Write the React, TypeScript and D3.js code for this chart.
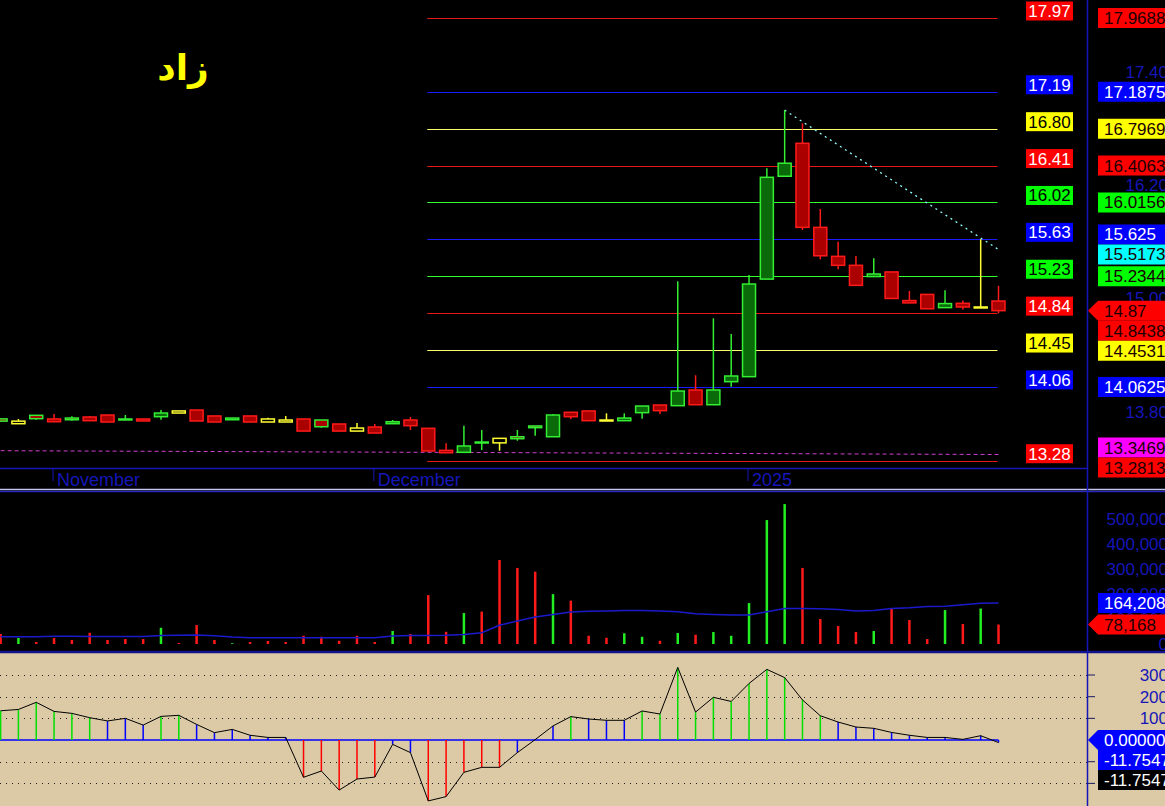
import React from 'react';
import * as d3 from 'd3';

// ---- data ----
const priorClose = 13.69;

const opens = [
  13.724, 13.673, 13.762, 13.723, 13.733, 13.744, 13.765, 13.723, 13.723, 13.747,
  13.808, 13.818, 13.755, 13.715, 13.755, 13.723, 13.712, 13.723, 13.712, 13.670,
  13.627, 13.638, 13.673, 13.712, 13.624, 13.391, 13.370, 13.479, 13.518, 13.535,
  13.649, 13.535, 13.794, 13.808, 13.712, 13.705, 13.790, 13.871, 13.864, 14.030,
  13.874, 14.118, 14.171, 15.204, 16.293, 16.642, 15.752, 15.445, 15.350, 15.231,
  15.280, 14.977, 15.042, 14.902, 14.948, 14.905, 14.972,
];
const highs = [
  13.724, 13.723, 13.762, 13.776, 13.751, 13.755, 13.765, 13.765, 13.723, 13.818,
  13.808, 13.818, 13.755, 13.733, 13.755, 13.736, 13.755, 13.723, 13.712, 13.670,
  13.680, 13.670, 13.712, 13.744, 13.624, 13.465, 13.652, 13.606, 13.518, 13.606,
  13.649, 13.776, 13.794, 13.808, 13.783, 13.783, 13.860, 13.871, 15.181, 14.186,
  14.789, 14.623, 15.247, 16.378, 16.993, 16.854, 15.946, 15.600, 15.448, 15.425,
  15.280, 15.079, 15.042, 15.087, 14.977, 15.627, 15.133,
];
const lows = [
  13.694, 13.673, 13.715, 13.694, 13.705, 13.705, 13.691, 13.715, 13.702, 13.715,
  13.786, 13.702, 13.691, 13.715, 13.691, 13.691, 13.691, 13.595, 13.631, 13.595,
  13.595, 13.574, 13.673, 13.606, 13.384, 13.365, 13.370, 13.394, 13.387, 13.493,
  13.546, 13.535, 13.723, 13.705, 13.705, 13.705, 13.726, 13.776, 13.864, 13.874,
  13.874, 14.065, 14.171, 15.204, 16.293, 15.724, 15.413, 15.308, 15.138, 15.231,
  14.999, 14.952, 14.890, 14.902, 14.882, 14.905, 14.842,
];
const closes = [
  13.700, 13.700, 13.726, 13.694, 13.715, 13.705, 13.691, 13.715, 13.702, 13.786,
  13.786, 13.702, 13.691, 13.733, 13.691, 13.691, 13.691, 13.595, 13.641, 13.595,
  13.595, 13.574, 13.694, 13.652, 13.384, 13.365, 13.437, 13.470, 13.470, 13.514,
  13.631, 13.765, 13.747, 13.705, 13.705, 13.733, 13.860, 13.811, 14.019, 13.874,
  14.030, 14.178, 15.152, 16.282, 16.431, 15.752, 15.451, 15.350, 15.138, 15.258,
  14.999, 14.952, 14.890, 14.945, 14.909, 14.909, 14.870,
];
const volumes = [
  40000, 24000, 8000, 24000, 16000, 45000, 16000, 20000, 20000, 65000,
  4000, 76000, 16000, 3000, 8000, 12000, 8000, 33000, 29000, 13000,
  33000, 8000, 52000, 40000, 196000, 49000, 124000, 130000, 337000, 305000,
  290000, 200000, 174000, 33000, 25000, 43000, 29000, 13000, 44000, 37000,
  48000, 33000, 164000, 497000, 561000, 305000, 100000, 72000, 48000, 52000,
  143000, 96000, 20000, 136000, 80000, 142000, 78168,
];
const volumeMA = [
  29000, 29000, 29000, 31000, 31000, 30000, 30000, 30000, 30000, 34000,
  35000, 36000, 33000, 28000, 25000, 25000, 25000, 25000, 25000, 25000,
  25000, 25000, 32000, 34000, 34000, 35000, 38000, 45000, 75000, 92000,
  108000, 118000, 128000, 131000, 132000, 134000, 134000, 132000, 129000, 121000,
  118000, 116000, 116000, 129000, 142000, 142000, 141000, 138000, 132000, 134000,
  142000, 145000, 150000, 151000, 157000, 163000, 164208,
];
const cci = [
  135, 141, 174, 132, 123, 103, 88, 100, 69, 109,
  114, 72, 34, 49, 22, 12, 12, -172, -143, -231,
  -180, -171, -20, -58, -281, -261, -149, -126, -126, -58,
  2, 65, 108, 97, 91, 91, 134, 120, 335, 129,
  197, 178, 261, 326, 288, 185, 112, 83, 60, 54,
  35, 22, 12, 12, 3, 20, -11.7547,
];

const monthTicks = [3, 21, 42];
const monthLabels = ['November', 'December', '2025'];

const fibStart = 24;
const fibEnd = 56;
const fibLevels = [17.96875, 17.1875, 16.796875, 16.40625, 16.015625, 15.625, 15.234375, 14.84375, 14.453125, 14.0625, 13.28125];

const cyanTrend = [[44, 16.993], [56, 15.5173]];
const magentaTrend = [[0, 13.387], [56, 13.3469]];

const priceTicks = [17.4, 16.2, 15.0, 13.8];
const volumeTicks = [0, 100000, 200000, 300000, 400000, 500000];
const cciTicks = [300, 200, 100, -100, -200];

const title = 'زاد';

// ---- styles ----
const W = 1165;
const H = 806;
const FONT = 'Liberation Sans, Arial, sans-serif';
const AXIS_BLUE = '#1616b8';
const GREEN = '#33ee33';
const RED = '#ff1a1a';
const YELLOW = '#ffff33';
const GREEN_FILL = '#0a6a0a';
const RED_FILL = '#aa0000';
const BOX = { red: '#ff0000', blue: '#0000ff', yellow: '#ffff00', green: '#00ff00', cyan: '#00ffff', magenta: '#ff00ff', black: '#000' };
const fibColors = ['red', 'blue', 'yellow', 'red', 'green', 'blue', 'green', 'red', 'yellow', 'blue', 'red'];
const LINE = { red: '#e81818', blue: '#1a1aff', yellow: '#ffff70', green: '#30ff30' };

const x = d3.scaleLinear().domain([0, 56]).range([0.6, 998.5]);
const yP = d3.scaleLinear().domain([13.28125, 17.96875]).range([460.7, 18]);
const yV = d3.scaleLinear().domain([0, 500000]).range([644, 519.3]);
const yC = d3.scaleLinear().domain([-100, 300]).range([761.7, 675]);

type Lab = { y: number; text: string; color: keyof typeof BOX; fixed?: boolean; arrow?: boolean };

// push overlapping right-hand labels apart
function spread(items: Lab[], h: number): Lab[] {
  const arr = items.map(d => ({ ...d })).sort((a, b) => a.y - b.y);
  for (let it = 0; it < 60; it++) {
    for (let i = 1; i < arr.length; i++) {
      const a = arr[i - 1], b = arr[i];
      const ov = h - (b.y - a.y);
      if (ov > 0) {
        if (a.fixed) b.y += ov;
        else if (b.fixed) a.y -= ov;
        else { a.y -= ov / 2; b.y += ov / 2; }
      }
    }
  }
  return arr;
}

const fmt4 = (v: number) => String(+v.toFixed(4));
const comma = d3.format(',');

function RightLabel({ d }: { d: Lab }) {
  const top = d.y - 10;
  const left = 1098;
  const path = d.arrow
    ? `M1088,${d.y} L${left},${top} L${W + 5},${top} L${W + 5},${top + 20} L${left},${top + 20} Z`
    : `M${left},${top} L${W + 5},${top} L${W + 5},${top + 20} L${left},${top + 20} Z`;
  const txt = d.color === 'blue' || d.color === 'black' ? '#fff' : '#1a0000';
  return (
    <g>
      <path d={path} fill={BOX[d.color]} />
      <text x={1104} y={d.y + 6} fontSize={17} fontFamily={FONT} fill={txt}>{d.text}</text>
    </g>
  );
}

export default function App() {
  const n = closes.length;
  const candles = d3.range(n).map(i => {
    const o = opens[i], c = closes[i];
    const prev = i === 0 ? priorClose : closes[i - 1];
    const tone = c > prev ? 'up' : c < prev ? 'down' : 'flat';
    const stroke = tone === 'up' ? GREEN : tone === 'down' ? RED : YELLOW;
    const fill = tone === 'flat' ? '#000' : c > o ? GREEN_FILL : c < o ? RED_FILL : stroke;
    return { i, o, h: highs[i], l: lows[i], c, stroke, fill };
  });

  const priceLabels = spread([
    ...fibLevels.map((v, k) => ({ y: yP(v), text: fmt4(v), color: fibColors[k] as keyof typeof BOX })),
    { y: yP(cyanTrend[1][1]), text: fmt4(cyanTrend[1][1]), color: 'cyan' },
    { y: yP(closes[n - 1]), text: closes[n - 1].toFixed(2), color: 'red', fixed: true, arrow: true },
    { y: yP(magentaTrend[1][1]), text: fmt4(magentaTrend[1][1]), color: 'magenta' },
  ], 20);

  const volLabels = spread([
    { y: yV(volumeMA[n - 1]), text: comma(volumeMA[n - 1]), color: 'blue' },
    { y: yV(volumes[n - 1]), text: comma(volumes[n - 1]), color: 'red', arrow: true },
  ], 20);

  const cciLabels = spread([
    { y: yC(0), text: (0).toFixed(5), color: 'blue', fixed: true, arrow: true },
    { y: yC(cci[n - 1]), text: cci[n - 1].toFixed(4), color: 'blue' },
    { y: yC(cci[n - 1]), text: cci[n - 1].toFixed(4), color: 'black' },
  ], 20);

  const cciLine = d3.line<number>().x((_, i) => x(i)).y(v => yC(v));
  const maLine = d3.line<number>().x((_, i) => x(i)).y(v => yV(v));
  const cciColor = (v: number) => (v > 100 ? '#00e000' : v < -100 ? '#ff0000' : '#0000ff');

  return (
    <div style={{ position: 'absolute', left: 0, top: 0, width: W, height: H, overflow: 'hidden' }}>
      <svg width={W} height={H} style={{ display: 'block' }}>
        <rect x={0} y={0} width={W} height={H} fill="#000" />
        <rect x={0} y={653} width={W} height={H - 653} fill="#dbcaa5" />

        {/* title */}
        <text x={183} y={80} fontSize={36} fontWeight="bold" fontFamily="DejaVu Sans, sans-serif" fill="#ffff00" textAnchor="middle">{title}</text>

        {/* price axis tick labels (drawn under the boxes) */}
        {priceTicks.map(t => (
          <text key={t} x={1168} y={yP(t) + 6} fontSize={17} fontFamily={FONT} fill={AXIS_BLUE} textAnchor="end">{t.toFixed(2)}</text>
        ))}

        {/* fib levels */}
        {fibLevels.map((v, k) => (
          <line key={v} x1={x(fibStart) - 1} x2={x(fibEnd) - 1} y1={Math.round(yP(v)) + 0.5} y2={Math.round(yP(v)) + 0.5}
            stroke={LINE[fibColors[k] as keyof typeof LINE]} strokeWidth={1.2} />
        ))}
        {fibLevels.map((v, k) => {
          const c = fibColors[k] as keyof typeof BOX;
          return (
            <g key={'l' + v}>
              <rect x={1026} y={yP(v) - 16.5} width={47} height={19} fill={BOX[c]} />
              <text x={1049.5} y={yP(v) - 1} fontSize={17} fontFamily={FONT} textAnchor="middle"
                fill={c === 'blue' || c === 'red' ? '#fff' : '#000'}>{v.toFixed(2)}</text>
            </g>
          );
        })}

        {/* trend lines */}
        <line x1={x(magentaTrend[0][0])} y1={yP(magentaTrend[0][1])} x2={x(magentaTrend[1][0])} y2={yP(magentaTrend[1][1])}
          stroke="#d040d0" strokeWidth={1} strokeDasharray="4 3" />
        <line x1={x(cyanTrend[0][0])} y1={yP(cyanTrend[0][1])} x2={x(cyanTrend[1][0])} y2={yP(cyanTrend[1][1])}
          stroke="#90ffff" strokeWidth={1.3} strokeDasharray="2 4" />

        {/* candles */}
        {candles.map(d => {
          const cx = x(d.i);
          const top = yP(Math.max(d.o, d.c));
          const bh = Math.max(1, yP(Math.min(d.o, d.c)) - top);
          return (
            <g key={d.i}>
              <line x1={cx} x2={cx} y1={yP(d.h)} y2={yP(d.l)} stroke={d.stroke} strokeWidth={1.5} />
              <rect x={cx - 6.5} y={top} width={13} height={bh} fill={d.fill} stroke={d.stroke} strokeWidth={1.5} />
            </g>
          );
        })}

        {/* time axis */}
        <line x1={0} x2={1087} y1={468.5} y2={468.5} stroke={AXIS_BLUE} strokeWidth={1.5} />
        {monthTicks.map((t, k) => (
          <g key={t}>
            <line x1={x(t) - 1} x2={x(t) - 1} y1={468} y2={481} stroke={AXIS_BLUE} strokeWidth={1} />
            <text x={x(t) + 3} y={486} fontSize={18} fontFamily={FONT} fill={AXIS_BLUE}>{monthLabels[k]}</text>
          </g>
        ))}

        {priceLabels.map((d, k) => <RightLabel key={'p' + k} d={d} />)}

        {/* panel separators */}
        <line x1={0} x2={W} y1={489.5} y2={489.5} stroke="#c4c4ec" strokeWidth={1.5} />
        <line x1={0} x2={W} y1={491.5} y2={491.5} stroke="#2828c0" strokeWidth={1.5} />

        {/* volume */}
        {volumeTicks.map(t => (
          <text key={t} x={1168} y={yV(t) + 6} fontSize={17} fontFamily={FONT} fill={AXIS_BLUE} textAnchor="end">{comma(t)}</text>
        ))}
        {volumes.map((v, i) => (
          <line key={i} x1={x(i)} x2={x(i)} y1={yV(0)} y2={yV(v)}
            stroke={closes[i] >= opens[i] ? '#22ee22' : '#ff1a1a'} strokeWidth={2.5} />
        ))}
        <path d={maLine(volumeMA) || ''} fill="none" stroke="#1a1acc" strokeWidth={1.5} />
        {volLabels.map((d, k) => <RightLabel key={'v' + k} d={d} />)}

        <line x1={0} x2={W} y1={652} y2={652} stroke="#12128c" strokeWidth={2.5} />

        {/* CCI */}
        {cciTicks.map(t => (
          <g key={t}>
            <line x1={0} x2={1087} y1={Math.round(yC(t)) + 0.5} y2={Math.round(yC(t)) + 0.5}
              stroke="#222" strokeWidth={1} strokeDasharray="1 5" />
            <line x1={1088} x2={1095} y1={yC(t)} y2={yC(t)} stroke="#1a1a60" strokeWidth={1} />
            <text x={1168} y={yC(t) + 6} fontSize={17} fontFamily={FONT} fill={AXIS_BLUE} textAnchor="end">{t}</text>
          </g>
        ))}
        <line x1={0} x2={x(n - 1)} y1={yC(0)} y2={yC(0)} stroke="#0000ff" strokeWidth={1.5} />
        {cci.map((v, i) => (
          <line key={i} x1={x(i)} x2={x(i)} y1={yC(0)} y2={yC(v)} stroke={cciColor(v)} strokeWidth={1.5} />
        ))}
        <path d={cciLine(cci) || ''} fill="none" stroke="#000" strokeWidth={1} />
        {cciLabels.map((d, k) => <RightLabel key={'c' + k} d={d} />)}

        {/* right axis divider */}
        <line x1={1087.5} x2={1087.5} y1={0} y2={H} stroke={AXIS_BLUE} strokeWidth={1.5} />
      </svg>
    </div>
  );
}
